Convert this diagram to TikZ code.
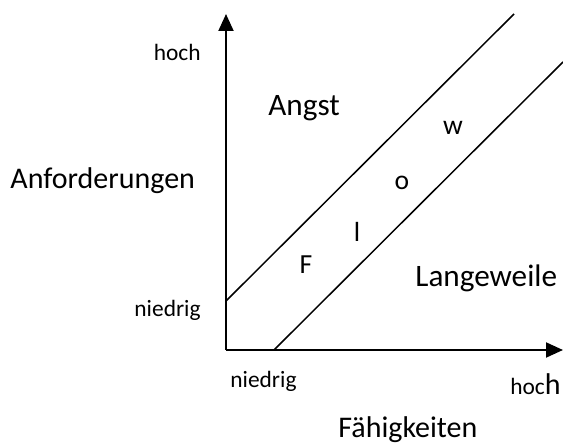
\documentclass[tikz,border=0pt]{standalone}
\usepackage{fontspec}
\setmainfont{Carlito}
\usetikzlibrary{arrows.meta}

\begin{document}
\begin{tikzpicture}[x=0.5pt, y=0.5pt, >={Triangle[length=8.5pt,width=7.5pt]},
    axis/.style={line width=1pt},
    band/.style={line width=0.75pt},
    small/.style={font=\fontsize{11.7}{14}\selectfont, inner sep=0pt},
    big/.style={font=\fontsize{15}{18}\selectfont, inner sep=0pt},
    region/.style={font=\fontsize{15.6}{18}\selectfont, inner sep=0pt},
    flowlet/.style={font=\fontsize{13.8}{16}\selectfont, inner sep=0pt}]
    \useasboundingbox (-226,-95) rectangle (337,350);
    % axes
    \coordinate (O) at (0,0);
    \coordinate (ytop) at (0,336);
    \coordinate (xend) at (337,0);
    \draw[axis, ->] (O) -- (ytop);
    \draw[axis, ->] (O) -- (xend);
    % flow channel
    \coordinate (upA) at (0,49);
    \coordinate (upB) at (288,336);
    \coordinate (loA) at (48,0);
    \coordinate (loB) at (337,288);
    \draw[band] (upA) -- (upB);
    \draw[band] (loA) -- (loB);
    % axis labels
    \node[small, anchor=base east] (yhigh) at (-25,289) {hoch};
    \node[small, anchor=base east] (ylow) at (-25,33) {niedrig};
    \node[big, anchor=base west] (ylab) at (-216,161) {Anforderungen};
    \node[small, anchor=base west] (xlow) at (4,-38) {niedrig};
    \node[small, anchor=base east] (xhigh) at (335,-45) {hoc{\fontsize{15}{18}\selectfont h}};
    \node[big, anchor=base west] (xlab) at (112,-88) {Fähigkeiten};
    % regions
    \node[region, anchor=base west] (angst) at (42,234) {Angst};
    \node[region, anchor=base west] (bore) at (189,63) {Langeweile};
    \node[flowlet] (fF) at (80,85) {F};
    \node[flowlet] (fl) at (131,118) {l};
    \node[flowlet] (fo) at (176,167) {o};
    \node[flowlet] (fw) at (227,222) {w};
\end{tikzpicture}
\end{document}
